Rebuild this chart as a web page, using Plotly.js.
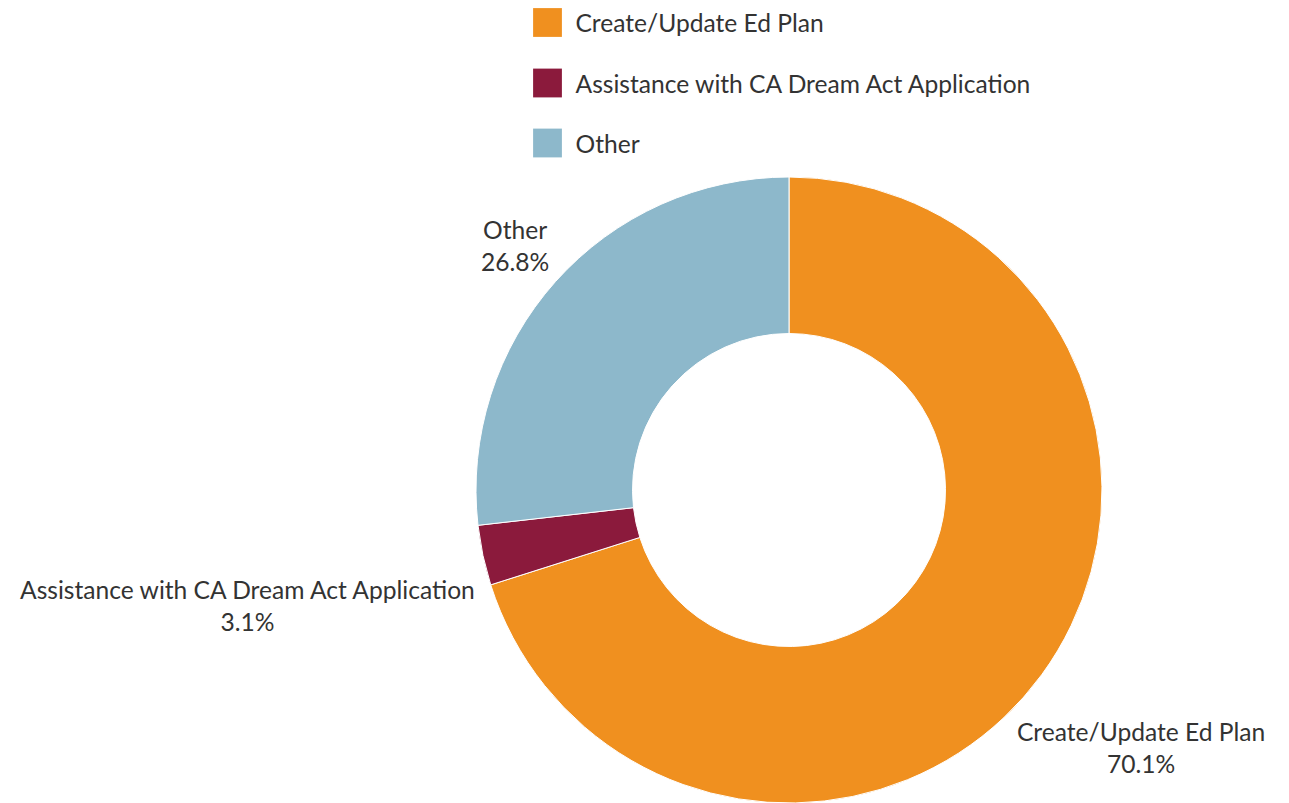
<!DOCTYPE html>
<html>
<head>
<meta charset="utf-8">
<script src="https://cdn.plot.ly/plotly-3.0.1.min.js"></script>
<style>
  html, body { margin: 0; padding: 0; background: #ffffff; }
  #chart { width: 1289px; height: 803px; }
</style>
</head>
<body>
<div id="chart"></div>
<script>
const categories = ['Create/Update Ed Plan', 'Assistance with CA Dream Act Application', 'Other'];
const shares = [70.1, 3.1, 26.8];
const sliceColors = ['#F0901F', '#8B1A3C', '#8DB8CB'];

const W = 1289, H = 803;
const cx = 789, cy = 490, R = 313;
const FONT = 'Lato, "Open Sans", sans-serif';
const FS = 24.6;

const trace = {
  type: 'pie',
  labels: categories,
  values: shares,
  sort: false,
  direction: 'clockwise',
  rotation: 0,
  hole: 0.5,
  marker: { colors: sliceColors, line: { color: '#ffffff', width: 1 } },
  textinfo: 'none',
  hoverinfo: 'label+percent',
  domain: { x: [(cx - R) / W, (cx + R) / W], y: [(H - cy - R) / H, (H - cy + R) / H] },
  showlegend: true
};

// outside labels placed along each slice's mid-angle, just clear of the ring
const ctx = document.createElement('canvas').getContext('2d');
ctx.font = FS + 'px Lato';
const total = shares.reduce((a, b) => a + b, 0);
const annotations = [];
let cum = 0;
const gap = 12, hh = 25;
shares.forEach(function (v, i) {
  const mid = (cum + v / 2) / total * 2 * Math.PI;
  cum += v;
  const dx = Math.sin(mid), dy = -Math.cos(mid);
  const pct = (v / total * 100).toFixed(1) + '%';
  const hw = Math.max(ctx.measureText(categories[i]).width, ctx.measureText(pct).width) / 2;
  function nearest(t) {
    const bx = t * dx, by = t * dy;
    const nx = Math.min(Math.max(0, bx - hw), bx + hw);
    const ny = Math.min(Math.max(0, by - hh), by + hh);
    return Math.hypot(nx, ny);
  }
  let lo = R * 0.5, hi = R * 3;
  for (let k = 0; k < 60; k++) {
    const m = (lo + hi) / 2;
    if (nearest(m) < R + gap) lo = m; else hi = m;
  }
  const t = (lo + hi) / 2;
  annotations.push({
    xref: 'paper', yref: 'paper',
    x: (cx + t * dx) / W, y: 1 - (cy + t * dy) / H,
    xanchor: 'center', yanchor: 'middle', align: 'center',
    showarrow: false,
    text: categories[i] + '<br>' + pct,
    font: { family: FONT, size: FS, color: '#333333' }
  });
});

const layout = {
  width: W, height: H,
  margin: { l: 0, r: 0, t: 0, b: 0 },
  paper_bgcolor: '#ffffff',
  font: { family: FONT, size: FS, color: '#333333' },
  showlegend: true,
  legend: { x: 0.4, y: 1, xanchor: 'left', yanchor: 'top', bgcolor: 'rgba(0,0,0,0)', font: { size: FS, color: '#333333' } },
  annotations: annotations
};

Plotly.newPlot('chart', [trace], layout, { displayModeBar: false, staticPlot: true }).then(function (gd) {
  const leg = gd.querySelector('.legend');
  if (!leg) return;
  leg.setAttribute('transform', 'translate(527.5,0)');
  const sb = leg.querySelector('.scrollbox');
  if (sb) sb.removeAttribute('clip-path');
  leg.removeAttribute('clip-path');
  const itemY = [22.5, 83, 143];
  leg.querySelectorAll('.traces').forEach(function (t, i) {
    t.setAttribute('transform', 'translate(0,' + itemY[i] + ')');
    const p = t.querySelector('.legendpoints path');
    if (p) {
      const tr = p.getAttribute('transform') || '';
      p.setAttribute('transform', tr + ' scale(2.4)');
      p.style.strokeWidth = '0px';
    }
    const tx = t.querySelector('.legendtext');
    if (tx) tx.setAttribute('x', 48);
  });
});
</script>
</body>
</html>
